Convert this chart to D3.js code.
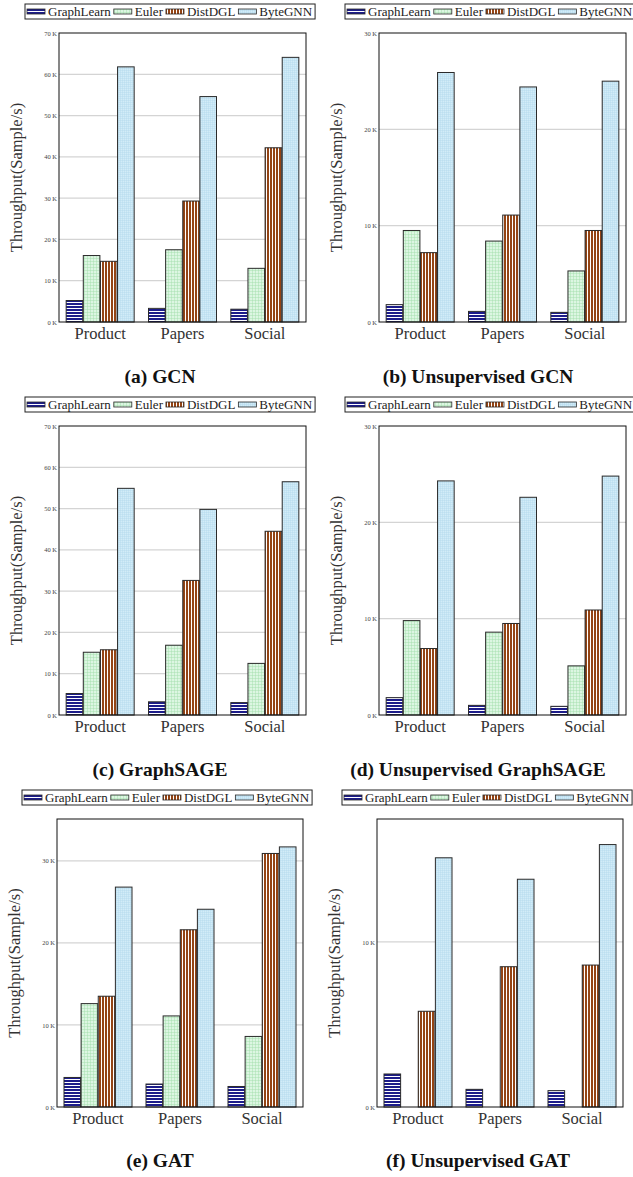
<!DOCTYPE html>
<html>
<head>
<meta charset="utf-8">
<script src="https://cdn.jsdelivr.net/npm/d3@7"></script>
<style>
  html, body { margin: 0; padding: 0; background: #fff; }
  svg { display: block; }
  svg text { font-family: 'Liberation Serif', 'Times New Roman', serif; }
</style>
</head>
<body>
<div id="chart"></div>
<script>
// ---- data (samples/s), rows = systems, columns = datasets ----
const categories = ['Product', 'Papers', 'Social']
const systems = ['GraphLearn', 'Euler', 'DistDGL', 'ByteGNN']

const gcnValues = [[5200, 3300, 3100], [16100, 17500, 13000], [14700, 29300, 42200], [61800, 54600, 64100]]
const unsupGcnValues = [[1800, 1100, 1000], [9500, 8400, 5300], [7200, 11100, 9500], [25900, 24400, 25000]]
const sageValues = [[5200, 3200, 3000], [15200, 16900, 12500], [15800, 32600, 44500], [54900, 49800, 56500]]
const unsupSageValues = [[1800, 1000, 900], [9800, 8600, 5100], [6900, 9500, 10900], [24300, 22600, 24800]]
const gatValues = [[3600, 2800, 2500], [12600, 11100, 8600], [13500, 21600, 30900], [26800, 24100, 31700]]
const unsupGatValues = [[2000, 1070, 990], [0, 0, 0], [5800, 8500, 8600], [15100, 13800, 15900]]

const captions = ['(a) GCN', '(b) Unsupervised GCN', '(c) GraphSAGE', '(d) Unsupervised GraphSAGE', '(e) GAT', '(f) Unsupervised GAT']
const yMaxima = [70000, 30000, 70000, 30000, 35100, 17450]
const yTickValues = [
  [0, 10000, 20000, 30000, 40000, 50000, 60000, 70000],
  [0, 10000, 20000, 30000],
  [0, 10000, 20000, 30000, 40000, 50000, 60000, 70000],
  [0, 10000, 20000, 30000],
  [0, 10000, 20000, 30000],
  [0, 10000]
]
const panelValues = [gcnValues, unsupGcnValues, sageValues, unsupSageValues, gatValues, unsupGatValues]

// ---- layout ----
const W = 633, H = 1177
const rowStep = 393

const svg = d3.select('#chart').append('svg')
  .attr('width', W).attr('height', H)

// patterns
const defs = svg.append('defs')

function stripes(id, bg, w, h, lines, stroke, sw) {
  const p = defs.append('pattern').attr('id', id)
    .attr('patternUnits', 'userSpaceOnUse').attr('width', w).attr('height', h)
  p.append('rect').attr('width', w).attr('height', h).attr('fill', bg)
  lines.forEach(l => p.append('line')
    .attr('x1', l[0]).attr('y1', l[1]).attr('x2', l[2]).attr('y2', l[3])
    .attr('stroke', stroke).attr('stroke-width', sw))
}
stripes('pGL', '#1c1c8a', 4, 3, [[0, 2.5, 4, 2.5]], '#fff', 1)
stripes('pEU', '#dcf6e2', 3, 3, [[0, 0.25, 3, 0.25], [0.25, 0, 0.25, 3]], '#9fdcaa', 0.6)
stripes('pDD', '#944414', 3, 4, [[2.5, 0, 2.5, 4]], '#fff', 1)
stripes('pBG', '#d2ecf8', 2, 2, [[0, 0.25, 2, 0.25], [0.25, 0, 0.25, 2]], '#aed6ea', 0.5)
const fills = ['url(#pGL)', 'url(#pEU)', 'url(#pDD)', 'url(#pBG)']

function drawPanel(i) {
  const col = i % 2, row = Math.floor(i / 2)
  const shiftX = row === 2 ? -2 : 0
  const left = 59 + col * 320 + shiftX
  const right = left + (row === 2 ? 246 : 247)
  const top = 33 + row * rowStep
  const bottom = (row === 2 ? 1107 : 322 + row * rowStep)
  const values = panelValues[i]

  const g = svg.append('g')

  const x0 = d3.scaleBand().domain(categories).range([left, right]).padding(0)
  const x1 = d3.scaleBand().domain(systems).range([-34, 34]).paddingInner(0.03)
  const y = d3.scaleLinear().domain([0, yMaxima[i]]).range([bottom, top])

  // gridlines
  g.append('g').selectAll('line')
    .data(yTickValues[i].filter(t => t > 0 && y(t) > top + 1))
    .join('line')
    .attr('x1', left).attr('x2', right)
    .attr('y1', d => y(d)).attr('y2', d => y(d))
    .attr('stroke', '#d4d4d4').attr('stroke-width', 1.2)

  // bars
  systems.forEach((s, si) => {
    g.append('g').selectAll('rect')
      .data(categories.map((c, ci) => ({ c, v: values[si][ci] })).filter(d => d.v > 0))
      .join('rect')
      .attr('x', d => x0(d.c) + x0.bandwidth() / 2 + x1(s))
      .attr('width', x1.bandwidth())
      .attr('y', d => y(d.v))
      .attr('height', d => y(0) - y(d.v))
      .attr('fill', fills[si])
      .attr('stroke', '#2a2a2a').attr('stroke-width', 1)
  })

  // frame
  g.append('rect')
    .attr('x', left).attr('y', top)
    .attr('width', right - left).attr('height', bottom - top)
    .attr('fill', 'none').attr('stroke', '#111').attr('stroke-width', 1)

  // y axis ticks
  g.append('g')
    .attr('transform', `translate(${left},0)`)
    .call(d3.axisLeft(y).tickValues(yTickValues[i]).tickSize(0).tickPadding(2)
      .tickFormat(d => `${d / 1000} K`))
    .call(a => {
      a.select('.domain').remove()
      a.selectAll('.tick text')
        .attr('fill', '#444').attr('font-size', '6.5px')
    })

  // x axis categories
  g.append('g')
    .attr('transform', `translate(0,${bottom})`)
    .call(d3.axisBottom(x0).tickSize(0).tickPadding(5))
    .call(a => {
      a.select('.domain').remove()
      a.selectAll('.tick text')
        .attr('fill', '#333').attr('font-size', '16.5px')
    })

  // y axis label
  g.append('text')
    .attr('transform', `translate(${18 + col * 320 + shiftX},${(top + bottom) / 2}) rotate(-90)`)
    .attr('text-anchor', 'middle').attr('dominant-baseline', 'middle')
    .attr('fill', '#333').attr('font-size', '16.5px')
    .text('Throughput(Sample/s)')

  // legend
  const lgLeft = 25 + col * 320 + (row === 2 ? -3 : 0)
  const lgTop = 4 + row * rowStep
  const lg = g.append('g')
  const box = lg.append('rect')
    .attr('x', lgLeft).attr('y', lgTop).attr('height', 15)
    .attr('fill', '#fff').attr('stroke', '#222').attr('stroke-width', 1)
  let cx = lgLeft + 2
  systems.forEach((s, si) => {
    lg.append('rect')
      .attr('x', cx).attr('y', lgTop + 5).attr('width', 18).attr('height', 5)
      .attr('fill', fills[si]).attr('stroke', '#2a2a2a').attr('stroke-width', 0.8)
    const t = lg.append('text')
      .attr('x', cx + 21).attr('y', lgTop + 12)
      .attr('fill', '#222').attr('font-size', '13px')
      .text(s)
    cx = cx + 21 + t.node().getComputedTextLength() + 3
  })
  box.attr('width', cx - lgLeft)

  // caption
  g.append('text')
    .attr('x', 160 + col * 318)
    .attr('y', (row === 2 ? 1167 : 383 + row * rowStep))
    .attr('text-anchor', 'middle')
    .attr('fill', '#111').attr('font-size', '19.5px').attr('font-weight', 'bold')
    .text(captions[i])
}

for (let i = 0; i < 6; i++) drawPanel(i)
</script>
</body>
</html>
